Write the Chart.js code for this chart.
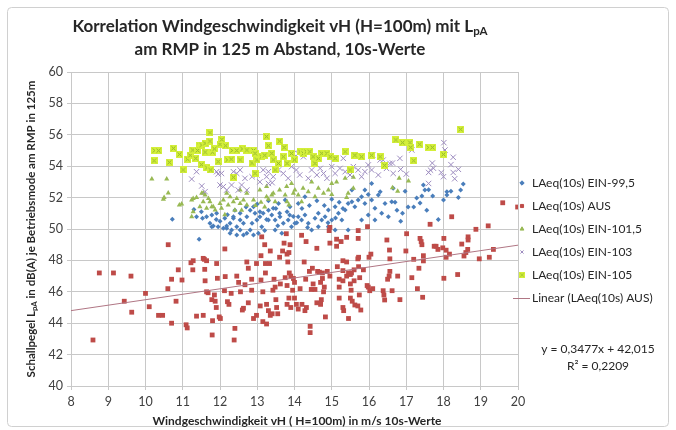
<!DOCTYPE html>
<html>
<head>
<meta charset="utf-8">
<script src="https://cdn.jsdelivr.net/npm/chart.js@4.4.1/dist/chart.umd.min.js"></script>
<style>
  html, body { margin: 0; padding: 0; background: #fff; }
  #wrap { width: 676px; height: 430px; position: relative; }
</style>
</head>
<body>
<div id="wrap"><canvas id="chart" width="676" height="430"></canvas></div>
<script>
// Werte: [vH in m/s, LpA in dB(A)]
const pointsEin995 = [
  [10.72,50.62],[11.37,50.78],[11.44,49.35],[11.3,51.25],[11.5,51.1],[11.53,50.68],[11.64,50.78],[11.73,50.36],[11.78,50.89],[11.78,50.15],
  [11.82,50.19],[11.9,50.6],[11.91,51.0],[11.95,50.15],[12.0,50.5],[12.09,50.04],[12.13,50.68],[12.18,50.19],[12.18,50.04],[12.2,50.9],
  [12.27,49.73],[12.27,50.36],[12.31,49.94],[12.36,50.68],[12.36,50.78],[12.4,51.2],[12.45,49.62],[12.45,50.15],[12.54,49.94],[12.54,50.57],
  [12.54,51.0],[12.63,49.62],[12.63,50.36],[12.7,51.4],[12.72,49.73],[12.72,50.78],[12.81,49.94],[12.81,51.2],[12.86,50.36],[12.9,49.62],
  [12.9,51.42],[12.94,51.0],[12.99,50.57],[13.0,51.6],[13.03,49.73],[13.07,50.78],[13.07,51.1],[13.12,50.15],[13.16,51.0],[13.2,49.9],
  [13.25,50.6],[13.3,50.57],[13.3,51.2],[13.3,51.8],[13.39,50.89],[13.43,51.32],[13.48,50.57],[13.48,49.94],[13.5,51.3],[13.55,50.2],
  [13.57,51.63],[13.6,51.0],[13.61,50.78],[13.66,49.73],[13.7,50.36],[13.75,51.85],[13.8,51.1],[13.83,50.57],[13.87,50.89],[13.88,51.42],
  [13.92,50.15],[13.97,50.8],[14.01,50.36],[14.06,50.4],[14.1,50.78],[14.1,51.63],[14.19,50.57],[14.2,51.3],[14.28,50.89],[14.28,52.06],
  [14.35,50.1],[14.37,50.36],[14.4,51.5],[14.46,49.94],[14.55,50.68],[14.6,51.8],[14.64,51.0],[14.64,50.15],[14.73,50.57],[14.8,51.5],
  [14.82,50.78],[14.9,50.4],[14.91,51.21],[14.91,50.15],[15.0,50.57],[15.0,51.9],[15.09,51.42],[15.09,49.94],[15.1,50.7],[15.18,51.0],
  [15.2,51.7],[15.27,50.57],[15.3,51.3],[15.36,51.21],[15.44,51.63],[15.44,49.94],[15.54,51.74],[15.54,52.48],[15.62,51.42],[15.71,51.85],
  [15.8,52.06],[15.8,50.57],[15.89,51.63],[15.89,52.48],[15.98,50.89],[15.98,52.2],[16.07,51.85],[16.07,52.9],[16.16,51.32],[16.16,50.57],
  [16.25,52.17],[16.3,52.38],[16.34,51.0],[16.43,51.63],[16.52,50.78],[16.61,51.74],[16.65,52.6],[16.7,51.7],[16.75,51.2],[16.85,50.5],
  [16.9,51.0],[16.97,52.4],[17.05,51.4],[17.2,51.4],[17.28,51.97],[17.37,51.66],[17.42,52.1],[17.46,52.8],[17.5,52.48],[17.55,51.2],
  [17.6,52.5],[17.71,52.1],[17.86,50.6],[18.0,51.85],[18.09,52.38],[18.09,52.17],[18.2,52.4],[18.4,52.0],[18.46,52.48],[18.53,52.87]
];
const pointsAus = [
  [8.59,42.93],[8.76,47.2],[9.14,47.2],[9.43,45.4],[9.61,47.0],[9.63,44.7],[10.0,45.9],[10.1,45.05],[10.35,44.5],[10.46,44.5],
  [10.6,46.2],[10.61,49.0],[10.7,46.8],[10.7,44.0],[10.82,45.4],[10.88,47.4],[10.98,46.75],[11.09,43.9],[11.12,43.7],[11.22,47.85],
  [11.27,47.4],[11.28,47.98],[11.37,44.45],[11.55,44.5],[11.55,48.13],[11.58,48.07],[11.59,47.43],[11.6,46.7],[11.64,47.98],[11.64,46.0],
  [11.68,45.94],[11.78,45.5],[11.8,44.16],[11.79,43.25],[11.85,45.8],[11.87,45.4],[11.9,45.0],[11.91,47.8],[11.93,46.86],[11.98,44.4],
  [12.01,44.3],[12.13,48.73],[12.14,46.97],[12.12,46.07],[12.2,45.37],[12.24,45.2],[12.3,45.9],[12.4,43.67],[12.38,42.93],[12.45,47.0],
  [12.5,46.6],[12.55,46.0],[12.6,44.84],[12.63,44.95],[12.67,46.45],[12.72,47.9],[12.76,45.3],[12.76,47.5],[12.85,46.8],[12.85,46.1],
  [12.9,44.3],[12.98,47.8],[12.98,44.5],[13.08,45.1],[13.1,46.75],[13.1,48.3],[13.12,49.5],[13.15,46.0],[13.15,44.1],[13.2,49.0],
  [13.22,47.8],[13.22,47.2],[13.25,45.2],[13.25,43.95],[13.3,44.8],[13.33,47.8],[13.35,48.6],[13.35,44.5],[13.4,44.6],[13.42,46.1],
  [13.45,46.8],[13.48,46.3],[13.5,45.5],[13.52,45.0],[13.55,44.6],[13.6,48.2],[13.62,46.5],[13.68,48.6],[13.72,49.1],[13.75,46.9],
  [13.78,49.7],[13.8,48.4],[13.8,45.2],[13.8,46.4],[13.82,47.9],[13.85,48.5],[13.85,45.6],[13.86,47.2],[13.88,49.0],[13.9,45.0],
  [13.9,47.0],[13.95,46.1],[13.97,46.85],[14.0,46.6],[14.0,45.6],[14.05,45.2],[14.1,44.9],[14.15,46.2],[14.19,49.6],[14.2,45.2],
  [14.26,47.9],[14.28,44.8],[14.3,46.8],[14.31,49.2],[14.32,45.0],[14.4,47.3],[14.42,43.8],[14.42,43.4],[14.45,46.15],[14.48,47.5],
  [14.5,46.5],[14.55,46.15],[14.6,48.77],[14.6,45.3],[14.62,47.3],[14.67,47.25],[14.7,46.6],[14.7,45.2],[14.72,45.5],[14.75,46.85],
  [14.75,47.2],[14.78,46.0],[14.8,46.3],[14.83,44.4],[14.88,47.3],[14.93,49.9],[14.95,50.1],[14.95,49.1],[14.95,47.0],[15.13,49.35],
  [15.13,48.9],[15.15,47.6],[15.2,46.8],[15.2,46.3],[15.2,45.6],[15.25,49.2],[15.3,47.98],[15.3,47.35],[15.3,46.7],[15.3,45.0],
  [15.32,44.8],[15.4,49.47],[15.4,47.9],[15.4,47.0],[15.45,47.2],[15.45,44.3],[15.5,47.1],[15.5,46.5],[15.5,45.6],[15.52,46.1],
  [15.53,47.2],[15.55,45.4],[15.6,46.7],[15.6,47.4],[15.62,45.16],[15.7,48.1],[15.7,45.1],[15.71,49.9],[15.71,49.4],[15.72,47.6],
  [15.72,48.2],[15.74,45.8],[15.75,46.9],[15.78,44.84],[15.85,47.4],[15.95,46.4],[15.96,50.15],[15.98,46.3],[16.0,48.2],[16.02,46.07],
  [16.05,48.4],[16.1,46.2],[16.38,46.07],[16.4,45.8],[16.42,45.48],[16.48,49.3],[16.5,46.8],[16.54,47.0],[16.55,48.66],[16.56,48.1],
  [16.56,47.3],[16.62,46.07],[16.77,47.0],[16.83,45.5],[16.99,48.6],[17.01,49.7],[17.15,46.9],[17.2,48.07],[17.3,46.2],[17.34,47.5],
  [17.37,49.4],[17.4,49.2],[17.42,49.0],[17.44,45.65],[17.46,48.3],[17.46,47.97],[17.64,50.3],[17.75,48.9],[17.8,48.9],[17.85,48.7],
  [17.98,48.8],[18.01,49.4],[18.01,46.86],[18.07,48.65],[18.07,48.2],[18.16,48.4],[18.22,50.78],[18.38,47.1],[18.49,49.04],[18.55,48.28],
  [18.6,48.5],[18.65,48.7],[18.66,49.5],[18.66,49.3],[18.87,49.98],[18.96,48.1],[19.2,50.2],[19.23,48.2],[19.34,48.7],[19.59,51.67],
  [19.99,51.4]
];
const pointsEin1015 = [
  [10.17,53.18],[10.57,53.18],[10.48,51.9],[10.5,52.0],[10.61,52.3],[10.91,51.53],[10.97,51.6],[11.24,51.85],[11.28,51.95],[11.24,50.78],
  [11.28,51.1],[11.37,52.0],[11.46,51.42],[11.51,52.27],[11.55,51.74],[11.55,52.3],[11.6,52.16],[11.64,51.32],[11.69,51.95],[11.73,51.74],
  [11.78,51.42],[11.82,51.42],[11.87,51.21],[12.0,51.63],[12.04,51.32],[12.09,51.85],[12.13,50.9],[12.18,52.27],[12.22,51.53],[12.27,52.06],
  [12.36,51.74],[12.4,51.2],[12.45,51.95],[12.54,51.63],[12.54,52.48],[12.58,51.2],[12.63,51.85],[12.72,51.53],[12.72,52.27],[12.9,51.85],
  [12.95,51.5],[13.07,52.48],[13.1,51.7],[13.2,51.4],[13.25,52.06],[13.25,52.7],[13.3,51.9],[13.39,52.17],[13.43,52.27],[13.48,51.74],
  [13.6,52.48],[13.75,52.17],[13.79,52.7],[13.8,51.74],[13.85,51.53],[13.92,52.9],[13.97,52.27],[14.01,52.48],[14.1,52.17],[14.19,51.74],
  [14.23,52.6],[14.37,52.38],[14.46,53.0],[14.55,52.06],[14.64,52.6],[14.78,52.27],[14.91,52.48],[15.0,52.9],[15.0,52.2],[15.13,53.0],
  [15.36,53.23],[15.4,52.0],[15.44,52.27],[15.58,52.6],[15.58,53.3],[16.63,52.63],[16.77,52.4],[16.81,53.23],[17.06,53.06]
];
const pointsEin103 = [
  [11.24,53.18],[11.37,53.65],[11.51,52.74],[11.6,52.38],[11.91,53.65],[11.95,53.5],[12.0,52.8],[12.04,53.54],[12.09,52.7],[12.18,52.48],
  [12.31,52.8],[12.36,53.65],[12.45,53.54],[12.49,52.48],[12.54,53.76],[12.58,52.8],[12.67,53.23],[12.72,52.48],[12.86,53.33],[12.99,53.44],
  [13.07,53.0],[13.16,53.76],[13.25,53.33],[13.3,53.65],[13.3,52.9],[13.4,52.95],[13.43,53.33],[13.57,53.76],[13.7,53.54],[13.83,53.23],
  [13.92,53.97],[13.97,54.82],[14.05,53.76],[14.1,54.8],[14.14,53.44],[14.24,54.6],[14.37,53.23],[14.46,53.76],[14.6,53.44],[14.69,53.86],
  [14.78,53.54],[14.87,53.23],[15.0,53.97],[15.09,53.54],[15.22,53.86],[15.31,54.5],[15.36,53.65],[15.49,53.44],[15.58,53.97],[15.71,53.76],
  [15.8,53.33],[15.89,53.65],[15.98,54.08],[16.07,53.76],[16.1,54.7],[16.25,53.44],[16.3,54.4],[16.38,54.39],[16.47,53.86],[16.56,54.18],
  [16.63,54.2],[16.65,53.54],[16.83,54.5],[16.85,53.8],[17.0,53.5],[17.15,55.03],[17.6,53.6],[17.6,52.9],[17.65,53.75],[17.7,54.2],
  [17.73,53.87],[17.94,53.6],[18.0,53.33],[18.01,55.5],[18.04,55.03],[18.2,54.1],[18.26,54.57],[18.26,53.6],[18.3,53.2],[18.4,53.8]
];
const pointsEin105 = [
  [10.23,54.35],[10.25,55.0],[10.35,54.99],[10.64,54.25],[10.75,55.14],[10.91,54.76],[11.01,53.76],[11.13,54.45],[11.2,54.7],[11.27,55.03],
  [11.35,54.5],[11.4,55.0],[11.46,55.3],[11.5,54.1],[11.51,55.35],[11.6,55.46],[11.6,54.9],[11.65,53.9],[11.73,56.13],[11.73,55.6],
  [11.75,53.76],[11.8,54.9],[11.85,55.1],[11.95,54.29],[12.0,55.4],[12.05,55.7],[12.15,55.3],[12.2,54.4],[12.3,54.45],[12.33,55.0],
  [12.36,53.3],[12.45,55.0],[12.54,54.4],[12.6,55.1],[12.72,55.03],[12.86,54.2],[12.9,55.0],[12.94,54.82],[12.94,53.55],[12.99,54.4],
  [13.12,54.6],[13.2,54.7],[13.25,55.88],[13.3,55.3],[13.39,54.82],[13.43,54.4],[13.48,53.76],[13.57,54.18],[13.6,55.6],[13.7,54.6],
  [13.72,55.2],[13.8,54.18],[13.92,54.82],[14.0,54.4],[14.15,54.92],[14.24,54.82],[14.32,54.92],[14.41,54.92],[14.5,54.6],[14.55,54.18],
  [14.64,54.5],[14.73,54.82],[14.87,54.82],[14.96,54.6],[15.09,54.5],[15.36,54.92],[15.49,53.76],[15.62,54.7],[15.8,54.6],[16.07,54.7],
  [16.3,54.6],[16.42,54.05],[16.72,55.67],[16.9,55.5],[17.1,55.5],[17.12,55.2],[17.2,54.35],[17.36,55.4],[17.6,55.2],[17.7,55.2],
  [18.0,54.76],[18.46,56.35]
];
const trendX = [8, 20];
const trendY = [44.8, 48.97];

const xTicks = [8, 9, 10, 11, 12, 13, 14, 15, 16, 17, 18, 19, 20];
const yTicks = [40, 42, 44, 46, 48, 50, 52, 54, 56, 58, 60];
const seriesLabels = ["LAeq(10s) EIN-99,5", "LAeq(10s) AUS", "LAeq(10s) EIN-101,5", "LAeq(10s) EIN-103", "LAeq(10s) EIN-105", "Linear (LAeq(10s) AUS)"];
const equationLines = ["y = 0,3477x + 42,015", "R² = 0,2209"];

const FONT = "Lato, 'Open Sans', sans-serif";
const toXY = arr => arr.map(p => ({ x: p[0], y: p[1] }));

// Marker fuer EIN-105: gelbes Quadrat mit x
function makeBoxX() {
  const c = document.createElement("canvas");
  c.width = 7; c.height = 7;
  const g = c.getContext("2d");
  g.fillStyle = "#d4ef3a";
  g.fillRect(0, 0, 7, 7);
  g.strokeStyle = "#8fb52a";
  g.lineWidth = 1;
  g.beginPath();
  g.moveTo(1.5, 1.5); g.lineTo(5.5, 5.5);
  g.moveTo(5.5, 1.5); g.lineTo(1.5, 5.5);
  g.stroke();
  return c;
}
const boxX = makeBoxX();

function richText(ctx, parts, x, y, size, bold, align) {
  const weight = bold ? "bold " : "";
  let total = 0;
  parts.forEach(p => {
    ctx.font = weight + (p.sub ? size * 0.68 : size) + "px " + FONT;
    p.w = ctx.measureText(p.t).width;
    total += p.w;
  });
  let cx = align === "center" ? x - total / 2 : x;
  ctx.textAlign = "left";
  ctx.textBaseline = "middle";
  parts.forEach(p => {
    ctx.font = weight + (p.sub ? size * 0.68 : size) + "px " + FONT;
    ctx.fillText(p.t, cx, p.sub ? y + size * 0.28 : y);
    cx += p.w;
  });
}

const decor = {
  id: "decor",
  beforeDraw(chart) {
    const ctx = chart.ctx;
    ctx.save();
    ctx.fillStyle = "#fff";
    ctx.fillRect(0, 0, chart.width, chart.height);
    ctx.strokeStyle = "#d0d0d0";
    ctx.lineWidth = 1;
    ctx.beginPath();
    ctx.roundRect(7.5, 7.5, 661, 419, 4);
    ctx.stroke();
    ctx.restore();
  },
  afterDraw(chart) {
    const ctx = chart.ctx;
    const area = chart.chartArea;
    ctx.save();
    ctx.fillStyle = "#262626";
    // Titel
    richText(ctx, [{ t: "Korrelation Windgeschwindigkeit vH (H=100m) mit L" }, { t: "pA", sub: true }], 280, 27, 17, true, "center");
    richText(ctx, [{ t: "am RMP in 125 m Abstand, 10s-Werte" }], 280, 50, 17, true, "center");
    // Achsentitel
    richText(ctx, [{ t: "Windgeschwindigkeit vH ( H=100m) in m/s 10s-Werte" }], 297, 421, 12, true, "center");
    ctx.save();
    ctx.translate(31, (area.top + area.bottom) / 2);
    ctx.rotate(-Math.PI / 2);
    richText(ctx, [{ t: "Schallpegel L" }, { t: "pA", sub: true }, { t: " in dB(A) je Betriebsmode am RMP in 125m" }], 0, 0, 11.5, true, "center");
    ctx.restore();

    // Legende
    chart.data.datasets.forEach((ds, i) => {
      const ly = 183 + i * 23;
      if (ds.showLine) {
        ctx.strokeStyle = ds.borderColor;
        ctx.lineWidth = 1;
        ctx.beginPath();
        ctx.moveTo(513, ly + 0.5);
        ctx.lineTo(530, ly + 0.5);
        ctx.stroke();
      } else if (ds.pointStyle === boxX) {
        ctx.drawImage(boxX, 519, ly - 3, 6, 6);
      } else {
        ctx.fillStyle = ds.backgroundColor;
        ctx.strokeStyle = ds.borderColor;
        Chart.helpers.drawPoint(ctx, { pointStyle: ds.pointStyle, radius: 2.2, borderWidth: 1, rotation: 0 }, 522, ly);
      }
      ctx.fillStyle = "#262626";
      ctx.font = "12px " + FONT;
      ctx.textAlign = "left";
      ctx.textBaseline = "middle";
      ctx.fillText(ds.label, 532, ly);
    });

    // Gleichung der Trendlinie
    ctx.fillStyle = "#262626";
    ctx.font = "12px " + FONT;
    ctx.textAlign = "center";
    ctx.fillText(equationLines[0], 598, 349);
    ctx.fillText(equationLines[1], 598, 366);
    ctx.restore();
  }
};

new Chart(document.getElementById("chart"), {
  type: "scatter",
  data: {
    datasets: [
      {
        label: seriesLabels[0],
        data: toXY(pointsEin995),
        pointStyle: "rectRot",
        pointRadius: 2.5,
        backgroundColor: "#4a7ebb",
        borderColor: "#4a7ebb",
        borderWidth: 0,
        order: 5
      },
      {
        label: seriesLabels[1],
        data: toXY(pointsAus),
        pointStyle: "rect",
        pointRadius: 3.4,
        backgroundColor: "#be4b48",
        borderColor: "#be4b48",
        borderWidth: 0,
        order: 4
      },
      {
        label: seriesLabels[2],
        data: toXY(pointsEin1015),
        pointStyle: "triangle",
        pointRadius: 3,
        backgroundColor: "#98b954",
        borderColor: "#98b954",
        borderWidth: 0,
        order: 3
      },
      {
        label: seriesLabels[3],
        data: toXY(pointsEin103),
        pointStyle: "crossRot",
        pointRadius: 3.8,
        backgroundColor: "#9d8cc0",
        borderColor: "#9d8cc0",
        borderWidth: 1,
        order: 2
      },
      {
        label: seriesLabels[4],
        data: toXY(pointsEin105),
        pointStyle: boxX,
        pointRadius: 3.5,
        backgroundColor: "#d4ef3a",
        borderColor: "#d4ef3a",
        order: 1
      },
      {
        label: seriesLabels[5],
        data: trendX.map((x, i) => ({ x, y: trendY[i] })),
        showLine: true,
        pointRadius: 0,
        borderColor: "#b07684",
        borderWidth: 1,
        order: 0
      }
    ]
  },
  options: {
    responsive: false,
    animation: false,
    events: [],
    layout: { padding: { top: 72, right: 158, bottom: 0, left: 0 } },
    plugins: {
      legend: { display: false },
      title: { display: false },
      tooltip: { enabled: false }
    },
    scales: {
      x: {
        type: "linear",
        min: xTicks[0],
        max: xTicks[xTicks.length - 1],
        afterFit: s => { s.height = 44; },
        afterBuildTicks: s => { s.ticks = xTicks.map(v => ({ value: v })); },
        ticks: { color: "#404040", font: { family: FONT, size: 12.5 }, padding: 4, maxRotation: 0 },
        grid: { color: "#c8c8c8", tickLength: 4, tickColor: "#c8c8c8" },
        border: { color: "#c8c8c8" }
      },
      y: {
        type: "linear",
        min: yTicks[0],
        max: yTicks[yTicks.length - 1],
        afterFit: s => { s.width = 71; },
        afterBuildTicks: s => {
          const t = [];
          for (let v = yTicks[0]; v <= yTicks[yTicks.length - 1]; v++) t.push({ value: v });
          s.ticks = t;
        },
        ticks: {
          color: "#404040",
          font: { family: FONT, size: 12.5 },
          padding: 4,
          callback: v => (yTicks.includes(v) ? v : "")
        },
        grid: {
          color: c => (c.tick && yTicks.includes(c.tick.value) ? "#c8c8c8" : "rgba(0,0,0,0)"),
          tickColor: "#c8c8c8",
          tickLength: 4
        },
        border: { color: "#c8c8c8" }
      }
    }
  },
  plugins: [decor]
});
</script>
</body>
</html>
